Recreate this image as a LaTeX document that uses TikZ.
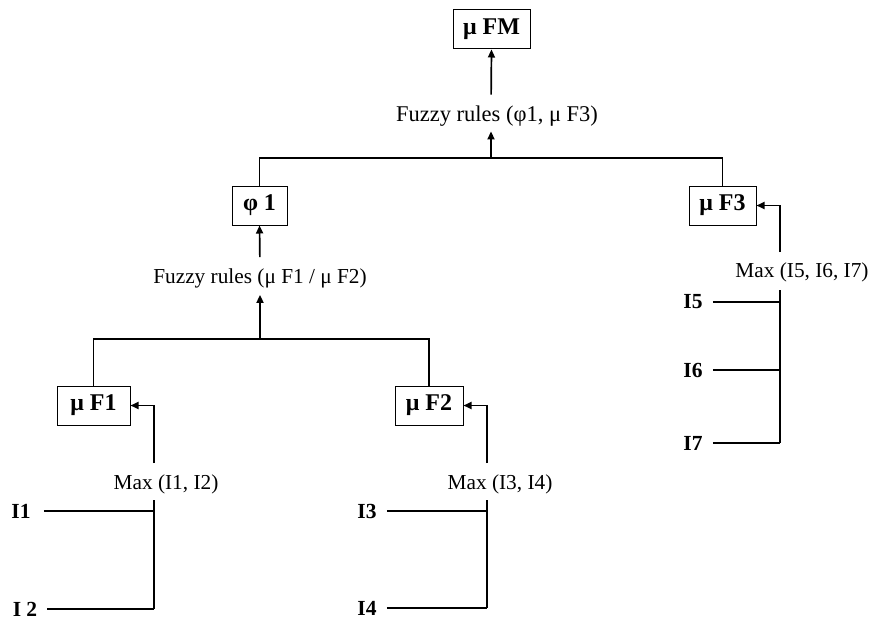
\documentclass[tikz,border=0pt]{standalone}
\usepackage{fontspec}
\setmainfont{Liberation Serif}
\usetikzlibrary{arrows.meta}
\begin{document}
\begin{tikzpicture}[x=1pt,y=-1pt,
  box/.style={draw, line width=1pt, font=\fontsize{24}{27}\selectfont\bfseries, inner sep=0pt, minimum height=39pt},
  lbl/.style={font=\fontsize{21.3}{24}\selectfont, inner sep=0pt},
  inp/.style={font=\fontsize{21.5}{24}\selectfont\bfseries, inner sep=0pt},
  ln/.style={line width=1.2pt},
  arr/.style={line width=1.7pt, -{Triangle[length=8pt,width=7pt]}}]
\useasboundingbox (0,0) rectangle (869,623);

% boxes
\node[box, minimum width=77pt] (fm)  at (491.5,29.5)  {μ FM};
\node[box, minimum width=55pt] (phi) at (259.5,205.5) {φ 1};
\node[box, minimum width=67pt] (f3)  at (722.5,205.5) {μ F3};
\node[box, minimum width=73pt] (f1)  at (93.5,405.5)  {μ F1};
\node[box, minimum width=68pt] (f2)  at (429,405.5)   {μ F2};

% labels
\node[lbl, font=\fontsize{22.5}{25}\selectfont] (r1) at (497,116) {Fuzzy rules (φ1, μ F3)};
\node[lbl] (r2) at (260,278) {Fuzzy rules (μ F1 / μ F2)};
\node[lbl] (m1) at (166,484) {Max (I1, I2)};
\node[lbl] (m2) at (500,484) {Max (I3, I4)};
\node[lbl] (m3) at (802,272) {Max (I5, I6, I7)};

% inputs
\node[inp] (i1) at (21,511)  {I1};
\node[inp] (i2) at (25,609)  {I 2};
\node[inp] (i3) at (367,511) {I3};
\node[inp] (i4) at (367,608) {I4};
\node[inp] (i5) at (693,302) {I5};
\node[inp] (i6) at (693,370) {I6};
\node[inp] (i7) at (693,443) {I7};

% top level
\coordinate (j1) at (491,158);
\draw[ln] (phi.north) |- (j1) -| (f3.north);
\draw[arr, shorten >=5pt] (j1) -- (r1.south -| j1);
\draw[arr, shorten <=11pt] (r1.north -| j1) -- (fm.south);

% second level
\coordinate (j2) at (260,339);
\draw[ln] (f1.north) |- (j2) -| (f2.north);
\draw[arr, shorten >=7pt] (j2) -- (r2.south);
\draw[arr, shorten <=11pt] (r2.north) -- (phi.south);

% group 1
\coordinate (a1) at (154,463);
\coordinate (b1) at (154,500);
\coordinate (e1) at (154,609);
\draw[arr] (a1) |- (f1.east);
\draw[ln] (b1) -- (e1);
\draw[ln] ([xshift=13pt]i1.east) -- (i1.east -| b1);
\draw[ln] ([xshift=10pt]i2.east) -- (e1);

% group 2
\coordinate (a2) at (487,463);
\coordinate (b2) at (487,500);
\coordinate (e2) at (487,608);
\draw[arr] (a2) |- (f2.east);
\draw[ln] (b2) -- (e2);
\draw[ln] ([xshift=10pt]i3.east) -- (i3.east -| b2);
\draw[ln] ([xshift=10pt]i4.east) -- (e2);

% group 3
\coordinate (a3) at (780,252);
\coordinate (b3) at (780,290);
\coordinate (e3) at (780,443);
\draw[arr] (a3) |- (f3.east);
\draw[ln] (b3) -- (e3);
\draw[ln] ([xshift=10pt]i5.east) -- (i5.east -| b3);
\draw[ln] ([xshift=10pt]i6.east) -- (i6.east -| b3);
\draw[ln] ([xshift=10pt]i7.east) -- (e3);
\end{tikzpicture}
\end{document}
